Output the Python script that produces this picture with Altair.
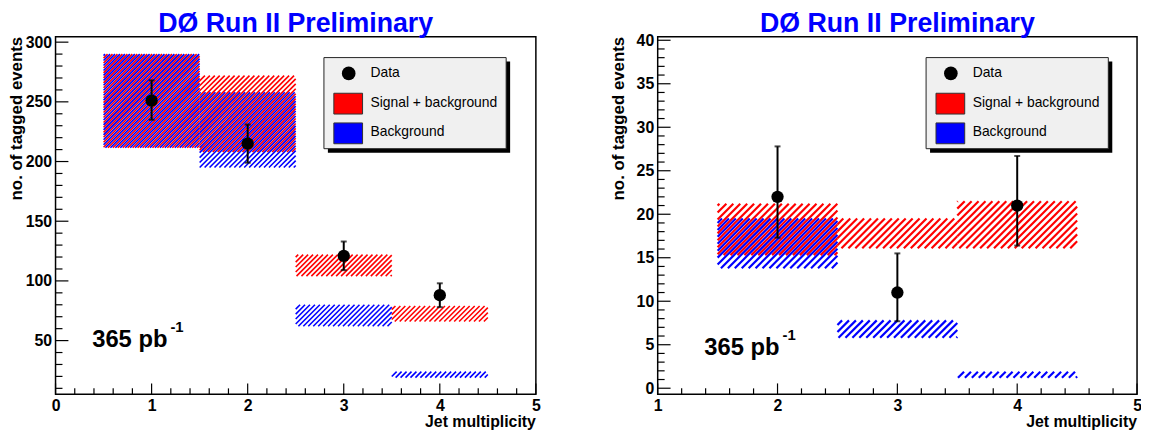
import math
import altair as alt
import pandas as pd

# ---------------- data ----------------
TITLE = "DØ Run II Preliminary"
YTITLE = "no. of tagged events"
XTITLE = "Jet multiplicity"
LUMI = "365 pb"
LUMI_EXP = "-1"
LEGEND_LABELS = ["Data", "Signal + background", "Background"]
BIN_WIDTH = 1.0

# left panel
L_jets = [1, 2, 3, 4]
L_data = [251, 215, 121, 88]
L_data_lo = [235, 199, 109, 78]
L_data_hi = [268, 231, 133, 98]
L_sb_lo = [211.5, 208, 104, 66]
L_sb_hi = [290, 272, 122, 79]
L_bkg_lo = [211.5, 195, 62, 19]
L_bkg_hi = [290, 258, 80, 24]
L_xdom = [0, 5]
L_ydom = [5, 304.5]
L_xmajor = [0, 1, 2, 3, 4, 5]
L_xminor = [0.2, 0.4, 0.6, 0.8, 1.2, 1.4, 1.6, 1.8, 2.2, 2.4, 2.6, 2.8,
            3.2, 3.4, 3.6, 3.8, 4.2, 4.4, 4.6, 4.8]
L_ymajor = [50, 100, 150, 200, 250, 300]
L_yminor = [10, 20, 30, 40, 60, 70, 80, 90, 110, 120, 130, 140, 160, 170, 180,
            190, 210, 220, 230, 240, 260, 270, 280, 290]

# right panel
R_jets = [2, 3, 4]
R_data = [22, 11, 21]
R_data_lo = [17.3, 7.7, 16.4]
R_data_hi = [27.8, 15.5, 26.7]
R_sb_lo = [15.3, 16.1, 16.1]
R_sb_hi = [21.2, 19.5, 21.5]
R_bkg_lo = [13.8, 5.8, 1.2]
R_bkg_hi = [19.5, 7.8, 1.9]
R_xdom = [1, 5]
R_ydom = [-0.7, 40.4]
R_xmajor = [1, 2, 3, 4, 5]
R_xminor = [1.2, 1.4, 1.6, 1.8, 2.2, 2.4, 2.6, 2.8, 3.2, 3.4, 3.6, 3.8,
            4.2, 4.4, 4.6, 4.8]
R_ymajor = [0, 5, 10, 15, 20, 25, 30, 35, 40]
R_yminor = [1, 2, 3, 4, 6, 7, 8, 9, 11, 12, 13, 14, 16, 17, 18, 19, 21, 22, 23,
            24, 26, 27, 28, 29, 31, 32, 33, 34, 36, 37, 38, 39]

FONT = "Liberation Sans"
H = 361
WL, WR = 485, 484
EXT_LEFT = 60     # fixed layout extents around each frame
EXT_TOP = 40
EXT_RIGHT = 10
EXT_BOTTOM = 45


def hatch_segments(jets, lo, hi, xdom, ydom, W, Hh, step, offset):
    """Diagonal hatch lines clipped to each band, returned in data units."""
    rows = []
    xs = (xdom[1] - xdom[0]) / W
    ys = (ydom[1] - ydom[0]) / Hh
    for j, a, b in zip(jets, lo, hi):
        px0 = (j - BIN_WIDTH / 2 - xdom[0]) / xs
        px1 = (j + BIN_WIDTH / 2 - xdom[0]) / xs
        py0 = (ydom[1] - b) / ys
        py1 = (ydom[1] - a) / ys
        kmin = math.ceil((px0 + py0 - offset) / step)
        kmax = math.floor((px1 + py1 - offset) / step)
        for k in range(kmin, kmax + 1):
            c = k * step + offset
            sx_lo = max(px0, c - py1)
            sx_hi = min(px1, c - py0)
            if sx_hi - sx_lo > 0.4:
                rows.append({
                    "x": xdom[0] + sx_lo * xs, "y": ydom[1] - (c - sx_lo) * ys,
                    "x2": xdom[0] + sx_hi * xs, "y2": ydom[1] - (c - sx_hi) * ys,
                })
    return pd.DataFrame(rows)


def panel(jets, d, dlo, dhi, sblo, sbhi, bklo, bkhi, xdom, ydom,
          xmaj, xmin, ymaj, ymin, W, step, sw, lumi_pos):
    def X(f):
        return alt.X(f, type="quantitative",
                     scale=alt.Scale(domain=xdom, nice=False, zero=False),
                     axis=alt.Axis(values=xmaj, title=None, format="d",
                                   labelFlush=False, labelOverlap=False,
                                   labelPadding=3))

    def Y(f):
        return alt.Y(f, type="quantitative",
                     scale=alt.Scale(domain=ydom, nice=False, zero=False),
                     axis=alt.Axis(values=ymaj, title=None, format="d",
                                   labelOverlap=False, labelPadding=4))

    one = pd.DataFrame({"k": [0]})
    layers = []

    # invisible layout guides: fix the extents used by the concat layout
    layers.append(alt.Chart(one).mark_rule(stroke="white", strokeOpacity=0, strokeWidth=0.01)
                  .encode(x=alt.value(-EXT_LEFT), x2=alt.value(W + EXT_RIGHT), y=alt.value(-EXT_TOP)))
    layers.append(alt.Chart(one).mark_rule(stroke="white", strokeOpacity=0, strokeWidth=0.01)
                  .encode(x=alt.value(-EXT_LEFT), x2=alt.value(W + EXT_RIGHT), y=alt.value(H + EXT_BOTTOM)))

    # inward ticks
    layers.append(alt.Chart(pd.DataFrame({"v": ymaj})).mark_rule(color="black", strokeWidth=1.2)
                  .encode(y=Y("v"), x=alt.value(0), x2=alt.value(13)))
    layers.append(alt.Chart(pd.DataFrame({"v": ymin})).mark_rule(color="black", strokeWidth=1.2)
                  .encode(y=Y("v"), x=alt.value(0), x2=alt.value(7)))
    layers.append(alt.Chart(pd.DataFrame({"v": xmaj})).mark_rule(color="black", strokeWidth=1.2)
                  .encode(x=X("v"), y=alt.value(H), y2=alt.value(H - 11)))
    layers.append(alt.Chart(pd.DataFrame({"v": xmin})).mark_rule(color="black", strokeWidth=1.2)
                  .encode(x=X("v"), y=alt.value(H), y2=alt.value(H - 6)))

    # hatched bands
    red = hatch_segments(jets, sblo, sbhi, xdom, ydom, W, H, step, 0.0)
    blue = hatch_segments(jets, bklo, bkhi, xdom, ydom, W, H, step, step / 2)
    layers.append(alt.Chart(red).mark_rule(color="#ff0000", strokeWidth=sw)
                  .encode(x=X("x"), y=Y("y"), x2="x2", y2="y2"))
    layers.append(alt.Chart(blue).mark_rule(color="#0000ff", strokeWidth=sw)
                  .encode(x=X("x"), y=Y("y"), x2="x2", y2="y2"))

    # data with error bars
    dd = pd.DataFrame({"j": jets, "n": d, "lo": dlo, "hi": dhi})
    layers.append(alt.Chart(dd).mark_rule(color="black", strokeWidth=2)
                  .encode(x=X("j"), y=Y("lo"), y2="hi"))
    layers.append(alt.Chart(dd).mark_tick(color="black", orient="horizontal", size=6, thickness=2)
                  .encode(x=X("j"), y=Y("lo")))
    layers.append(alt.Chart(dd).mark_tick(color="black", orient="horizontal", size=6, thickness=2)
                  .encode(x=X("j"), y=Y("hi")))
    layers.append(alt.Chart(dd).mark_circle(color="black", size=155, opacity=1)
                  .encode(x=X("j"), y=Y("n")))

    # legend
    layers.append(alt.Chart(one).mark_rect(color="black")
                  .encode(x=alt.value(275), x2=alt.value(459), y=alt.value(25), y2=alt.value(117)))
    layers.append(alt.Chart(one).mark_rect(fill="#f0f0f0", stroke="#222222", strokeWidth=1)
                  .encode(x=alt.value(271), x2=alt.value(455), y=alt.value(21), y2=alt.value(113)))
    layers.append(alt.Chart(one).mark_point(filled=True, shape="circle", size=190, color="black", opacity=1)
                  .encode(x=alt.value(296), y=alt.value(37)))
    layers.append(alt.Chart(one).mark_rect(fill="#ff0000", stroke="#333333", strokeWidth=1)
                  .encode(x=alt.value(281), x2=alt.value(310), y=alt.value(57), y2=alt.value(78)))
    layers.append(alt.Chart(one).mark_rect(fill="#0000ff", stroke="#333333", strokeWidth=1)
                  .encode(x=alt.value(281), x2=alt.value(310), y=alt.value(87), y2=alt.value(108)))
    for lab, yy in zip(LEGEND_LABELS, [37, 67, 96]):
        layers.append(alt.Chart(pd.DataFrame({"t": [lab]}))
                      .mark_text(align="left", baseline="middle", fontSize=14, font=FONT, color="black")
                      .encode(x=alt.value(318), y=alt.value(yy), text="t"))

    # luminosity
    lx, ly = lumi_pos
    layers.append(alt.Chart(pd.DataFrame({"t": [LUMI]}))
                  .mark_text(align="left", baseline="alphabetic", fontSize=24, fontWeight="bold", font=FONT, color="black")
                  .encode(x=alt.value(lx), y=alt.value(ly), text="t"))
    layers.append(alt.Chart(pd.DataFrame({"t": [LUMI_EXP]}))
                  .mark_text(align="left", baseline="alphabetic", fontSize=15, fontWeight="bold", font=FONT, color="black")
                  .encode(x=alt.value(lx + 79), y=alt.value(ly - 15), text="t"))

    # titles
    layers.append(alt.Chart(pd.DataFrame({"t": [TITLE]}))
                  .mark_text(align="center", baseline="alphabetic", fontSize=27, fontWeight="bold", font=FONT, color="#0000ff")
                  .encode(x=alt.value(W / 2), y=alt.value(-5), text="t"))
    layers.append(alt.Chart(pd.DataFrame({"t": [YTITLE]}))
                  .mark_text(align="right", baseline="alphabetic", angle=270, fontSize=17, fontWeight="bold", font=FONT, color="black")
                  .encode(x=alt.value(-34), y=alt.value(0), text="t"))
    layers.append(alt.Chart(pd.DataFrame({"t": [XTITLE]}))
                  .mark_text(align="right", baseline="alphabetic", fontSize=16, fontWeight="bold", font=FONT, color="black")
                  .encode(x=alt.value(W), y=alt.value(H + 33), text="t"))

    return alt.layer(*layers).properties(width=W, height=H)


left = panel(L_jets, L_data, L_data_lo, L_data_hi, L_sb_lo, L_sb_hi, L_bkg_lo, L_bkg_hi,
             L_xdom, L_ydom, L_xmajor, L_xminor, L_ymajor, L_yminor, WL, 5.0, 1.6, (37, 313))
right = panel(R_jets, R_data, R_data_lo, R_data_hi, R_sb_lo, R_sb_hi, R_bkg_lo, R_bkg_hi,
              R_xdom, R_ydom, R_xmajor, R_xminor, R_ymajor, R_yminor, WR, 7.0, 2.2, (47, 321))

# page targets: left frame at x=55, right frame at x=661, frames' top at y=34,
# and the whole drawing kept inside the 1149x432 window (page margin 8)
LEFT0, RIGHT0, TOP0 = 55, 661, 34
pad_right = 1148 - (RIGHT0 + WR + EXT_RIGHT)
pad_bottom = 431 - (TOP0 + H + EXT_BOTTOM)
chart = (
    alt.hconcat(left, right, spacing=RIGHT0 - (LEFT0 + WL + EXT_RIGHT) - EXT_LEFT)
    .properties(padding={"left": LEFT0 - 8 - EXT_LEFT, "top": TOP0 - 8 - EXT_TOP,
                         "right": pad_right, "bottom": pad_bottom},
                background="white")
    .configure_view(stroke="black", strokeWidth=1.5)
    .configure_axis(ticks=False, domain=False, grid=False, labelFont=FONT, labelFontSize=16,
                    labelFontWeight="bold", labelColor="black")
)

chart.save("out.html", embed_options={"renderer": "svg", "actions": False})
